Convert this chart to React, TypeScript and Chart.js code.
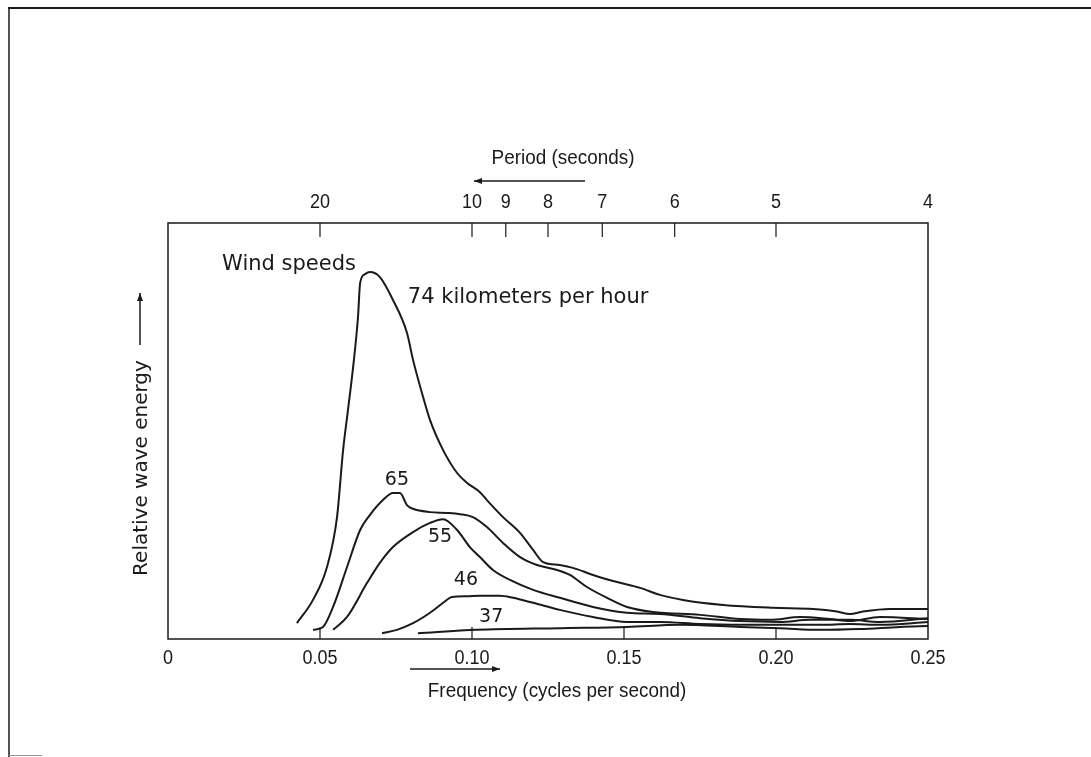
import { useEffect, useRef } from "react";
import { Chart, registerables } from "chart.js";

Chart.register(...registerables);

// Frequency (cycles per second) and relative wave energy (0-100) for each wind speed
const freq74 = [0.0424, 0.0477, 0.0523, 0.0556, 0.0576, 0.0592, 0.0609, 0.0625, 0.0632, 0.0648, 0.0664, 0.0697, 0.074, 0.0786, 0.0806, 0.0839, 0.0862, 0.0905, 0.0951, 0.0984, 0.1026, 0.1049, 0.1102, 0.1158, 0.1201, 0.1234, 0.1289, 0.1332, 0.1398, 0.1477, 0.1553, 0.1618, 0.1694, 0.1826, 0.199, 0.2122, 0.2201, 0.2243, 0.2286, 0.2375, 0.25];
const energy74 = [3.8, 9.4, 17.3, 29.3, 45.4, 55.0, 65.4, 77.4, 85.6, 87.7, 88.2, 87.0, 81.5, 73.6, 67.1, 58.2, 52.6, 45.4, 39.9, 37.5, 35.3, 33.4, 29.3, 25.5, 21.4, 18.5, 17.8, 17.1, 15.4, 13.7, 12.3, 10.6, 9.4, 8.2, 7.5, 7.2, 6.6, 6.0, 6.6, 7.2, 7.2];

const freq65 = [0.0477, 0.051, 0.0543, 0.0589, 0.0632, 0.0664, 0.0707, 0.074, 0.0763, 0.0786, 0.0806, 0.0862, 0.0918, 0.0961, 0.1003, 0.1049, 0.1102, 0.1158, 0.1214, 0.128, 0.1322, 0.1378, 0.1444, 0.151, 0.1595, 0.175, 0.1882, 0.198, 0.2079, 0.2178, 0.2243, 0.2342, 0.25];
const energy65 = [2.2, 2.9, 7.7, 17.3, 26.2, 29.8, 33.4, 35.1, 35.1, 32.2, 31.3, 30.5, 30.3, 30.0, 29.3, 26.9, 23.1, 19.7, 17.8, 16.6, 15.4, 12.5, 9.9, 7.7, 6.5, 5.8, 4.8, 4.6, 5.3, 4.8, 4.3, 5.3, 4.8];

const freq55 = [0.0543, 0.0589, 0.0655, 0.0697, 0.074, 0.0806, 0.0862, 0.0905, 0.0951, 0.0993, 0.1026, 0.1069, 0.1125, 0.1201, 0.1289, 0.1398, 0.151, 0.1618, 0.175, 0.1882, 0.2013, 0.2112, 0.2243, 0.2342, 0.25];
const energy55 = [2.2, 5.3, 13.5, 18.3, 22.1, 25.7, 27.9, 28.8, 26.2, 22.1, 19.7, 16.6, 14.2, 11.8, 9.9, 7.7, 6.3, 6.0, 5.0, 4.3, 4.1, 4.6, 4.6, 4.1, 5.0];

const freq46 = [0.0704, 0.0753, 0.0806, 0.0862, 0.0905, 0.0934, 0.0984, 0.1026, 0.1092, 0.1135, 0.1201, 0.1289, 0.1398, 0.151, 0.1618, 0.175, 0.1882, 0.2013, 0.2145, 0.2243, 0.2342, 0.25];
const energy46 = [1.4, 2.2, 3.8, 6.3, 8.7, 10.1, 10.3, 10.4, 10.4, 9.9, 8.7, 7.0, 5.3, 4.1, 4.1, 3.6, 3.4, 3.4, 3.4, 3.6, 3.4, 4.1];

const freq37 = [0.0822, 0.1016, 0.1289, 0.151, 0.1684, 0.1882, 0.2013, 0.2145, 0.2276, 0.2408, 0.25];
const energy37 = [1.4, 2.2, 2.6, 2.9, 3.4, 2.9, 2.6, 2.2, 2.4, 2.9, 3.1];

const freqTicks = [0, 0.05, 0.1, 0.15, 0.2, 0.25];
const freqTickLabels = ["0", "0.05", "0.10", "0.15", "0.20", "0.25"];
const periodTicks = [20, 10, 9, 8, 7, 6, 5, 4];

const SANS = "'Liberation Sans', Arial, sans-serif";
const GEO = "'DejaVu Sans', sans-serif";
const INK = "#1a1a1a";

function text(ctx: CanvasRenderingContext2D, s: string, x: number, y: number, font: string, align: CanvasTextAlign, sx = 1, rot = 0) {
  ctx.save();
  ctx.translate(x, y);
  if (rot) ctx.rotate(rot);
  ctx.scale(sx, 1);
  ctx.font = font;
  ctx.fillStyle = INK;
  ctx.textAlign = align;
  ctx.textBaseline = "middle";
  ctx.fillText(s, 0, 0);
  ctx.restore();
}

function arrow(ctx: CanvasRenderingContext2D, x1: number, y1: number, x2: number, y2: number) {
  ctx.save();
  ctx.strokeStyle = INK;
  ctx.fillStyle = INK;
  ctx.lineWidth = 1.5;
  ctx.beginPath();
  ctx.moveTo(x1, y1);
  ctx.lineTo(x2, y2);
  ctx.stroke();
  const ang = Math.atan2(y2 - y1, x2 - x1);
  const L = 8, W = 3;
  ctx.beginPath();
  ctx.moveTo(x2, y2);
  ctx.lineTo(x2 - L * Math.cos(ang) + W * Math.sin(ang), y2 - L * Math.sin(ang) - W * Math.cos(ang));
  ctx.lineTo(x2 - L * Math.cos(ang) - W * Math.sin(ang), y2 - L * Math.sin(ang) + W * Math.cos(ang));
  ctx.closePath();
  ctx.fill();
  ctx.restore();
}

const decorPlugin = {
  id: "decor",
  afterDraw(chart: any) {
    const { ctx, chartArea: a } = chart;
    const xs = chart.scales.x;
    const ys = chart.scales.y;
    ctx.save();
    // outer frame
    ctx.strokeStyle = INK;
    ctx.lineWidth = 2;
    ctx.beginPath();
    ctx.moveTo(8, 8);
    ctx.lineTo(1091, 8);
    ctx.stroke();
    ctx.lineWidth = 1.5;
    ctx.beginPath();
    ctx.moveTo(9, 8);
    ctx.lineTo(9, 757);
    ctx.stroke();
    ctx.strokeStyle = "#999";
    ctx.lineWidth = 1;
    ctx.beginPath();
    ctx.moveTo(9, 755.5);
    ctx.lineTo(42, 755.5);
    ctx.stroke();

    // plot frame
    ctx.strokeStyle = INK;
    ctx.lineWidth = 1.5;
    ctx.strokeRect(a.left, a.top, a.right - a.left, a.bottom - a.top);

    // bottom ticks (inward) and labels
    ctx.lineWidth = 1.2;
    freqTicks.forEach((v, i) => {
      const px = xs.getPixelForValue(v);
      if (v > 0 && v < 0.25) {
        ctx.beginPath();
        ctx.moveTo(px, a.bottom);
        ctx.lineTo(px, a.bottom - 12);
        ctx.stroke();
      }
      text(ctx, freqTickLabels[i], px, a.bottom + 19, `20px ${SANS}`, "center", 0.9);
    });

    // top period ticks (inward) and labels
    periodTicks.forEach((p) => {
      const px = xs.getPixelForValue(1 / p);
      if (p > 4) {
        ctx.beginPath();
        ctx.moveTo(px, a.top);
        ctx.lineTo(px, a.top + 14);
        ctx.stroke();
      }
      text(ctx, String(p), px, a.top - 21, `20px ${SANS}`, "center", 0.9);
    });

    // axis titles and arrows
    text(ctx, "Period (seconds)", 563, 158, `21px ${SANS}`, "center", 0.9);
    arrow(ctx, 585, 181, 474, 181);
    text(ctx, "Frequency (cycles per second)", 557, 691, `21px ${SANS}`, "center", 0.9);
    arrow(ctx, 410, 669, 500, 669);
    text(ctx, "Relative wave energy", 142, 468, `20px ${GEO}`, "center", 1, -Math.PI / 2);
    arrow(ctx, 140, 345, 140, 293);

    // curve annotations
    text(ctx, "Wind speeds", xs.getPixelForValue(0.0178), ys.getPixelForValue(89.9), `21px ${GEO}`, "left");
    text(ctx, "74 kilometers per hour", xs.getPixelForValue(0.0789), ys.getPixelForValue(82.2), `21px ${GEO}`, "left");
    text(ctx, "65", xs.getPixelForValue(0.0753), ys.getPixelForValue(38.2), `19px ${GEO}`, "center");
    text(ctx, "55", xs.getPixelForValue(0.0895), ys.getPixelForValue(24.5), `19px ${GEO}`, "center");
    text(ctx, "46", xs.getPixelForValue(0.098), ys.getPixelForValue(14.2), `19px ${GEO}`, "center");
    text(ctx, "37", xs.getPixelForValue(0.1063), ys.getPixelForValue(5.3), `19px ${GEO}`, "center");
    ctx.restore();
  },
};

function series(label: string, fx: number[], ey: number[]) {
  return {
    label,
    data: fx.map((f, i) => ({ x: f, y: ey[i] })),
    borderColor: INK,
    borderWidth: 2,
    pointRadius: 0,
    fill: false,
    cubicInterpolationMode: "monotone" as const,
    clip: 4,
  };
}

export default function App() {
  const ref = useRef<HTMLCanvasElement>(null);
  useEffect(() => {
    const canvas = ref.current!;
    const chart = new Chart(canvas, {
      type: "line",
      data: {
        datasets: [
          series("74", freq74, energy74),
          series("65", freq65, energy65),
          series("55", freq55, energy55),
          series("46", freq46, energy46),
          series("37", freq37, energy37),
        ],
      },
      options: {
        responsive: false,
        animation: false,
        devicePixelRatio: 1,
        layout: { padding: { left: 168, right: 163, top: 223, bottom: 118 } },
        scales: {
          x: { type: "linear", min: 0, max: 0.25, display: false },
          y: { type: "linear", min: 0, max: 100, display: false },
        },
        plugins: { legend: { display: false }, tooltip: { enabled: false } },
        events: [],
      },
      plugins: [decorPlugin],
    });
    return () => chart.destroy();
  }, []);
  return (
    <div style={{ position: "fixed", left: 0, top: 0, width: 1091, height: 757, background: "#fff" }}>
      <canvas ref={ref} width={1091} height={757} style={{ display: "block", width: 1091, height: 757 }} />
    </div>
  );
}
